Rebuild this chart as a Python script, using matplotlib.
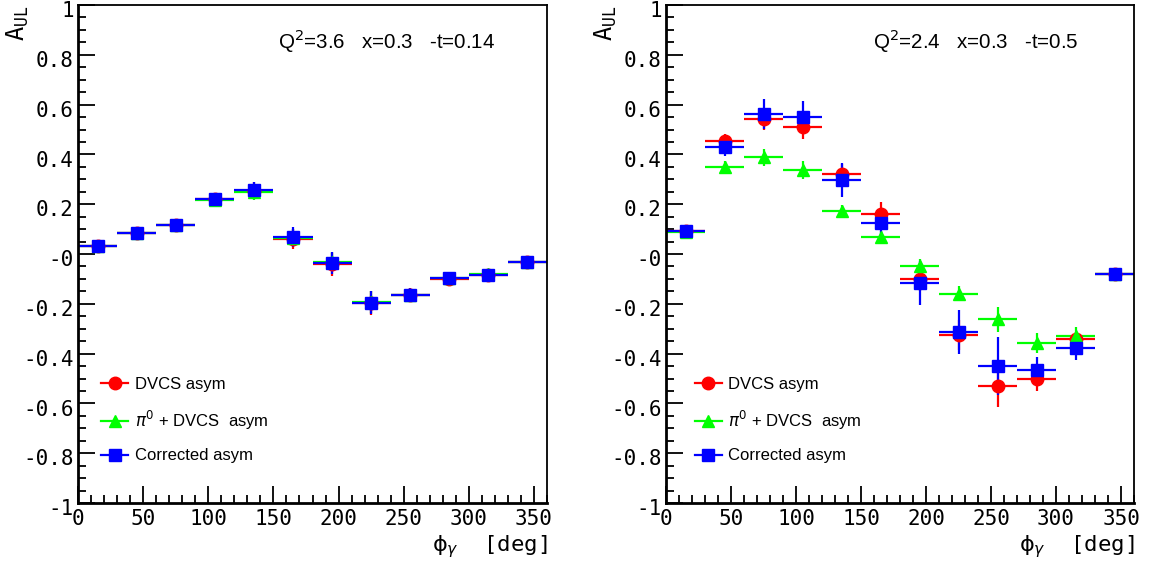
import numpy as np
import matplotlib
matplotlib.use("Agg")
import matplotlib.pyplot as plt
import matplotlib.transforms as mtransforms
from matplotlib.lines import Line2D
from matplotlib.ticker import MultipleLocator, FixedLocator, FixedFormatter

# bin centres in phi_gamma (deg), bin half-width
phi = [15, 45, 75, 105, 135, 165, 195, 225, 255, 285, 315, 345]
phi_err = [15] * 12

# left panel: Q2=3.6 x=0.3 -t=0.14
left_dvcs = [0.033, 0.086, 0.118, 0.222, 0.255, 0.059, -0.042, -0.197, -0.166, -0.099, -0.083, -0.034]
left_dvcs_err = [0.012, 0.012, 0.012, 0.012, 0.033, 0.04, 0.045, 0.047, 0.028, 0.012, 0.012, 0.012]
left_pi = [0.032, 0.085, 0.116, 0.215, 0.248, 0.066, -0.033, -0.193, -0.165, -0.098, -0.082, -0.033]
left_pi_err = [0.012, 0.012, 0.012, 0.012, 0.03, 0.035, 0.04, 0.045, 0.025, 0.012, 0.012, 0.012]
left_cor = [0.032, 0.086, 0.118, 0.222, 0.257, 0.067, -0.035, -0.195, -0.165, -0.098, -0.083, -0.033]
left_cor_err = [0.012, 0.012, 0.012, 0.012, 0.033, 0.04, 0.045, 0.047, 0.028, 0.012, 0.012, 0.012]

# right panel: Q2=2.4 x=0.3 -t=0.5
right_dvcs = [0.092, 0.452, 0.542, 0.512, 0.322, 0.160, -0.099, -0.325, -0.530, -0.502, -0.343, -0.080]
right_dvcs_err = [0.01, 0.03, 0.045, 0.05, 0.04, 0.05, 0.05, 0.06, 0.085, 0.05, 0.03, 0.01]
right_pi = [0.090, 0.350, 0.388, 0.338, 0.172, 0.068, -0.050, -0.160, -0.262, -0.356, -0.330, -0.082]
right_pi_err = [0.01, 0.025, 0.035, 0.035, 0.025, 0.025, 0.03, 0.03, 0.05, 0.04, 0.035, 0.01]
right_cor = [0.092, 0.428, 0.562, 0.551, 0.297, 0.126, -0.115, -0.313, -0.449, -0.465, -0.379, -0.082]
right_cor_err = [0.01, 0.035, 0.06, 0.065, 0.07, 0.05, 0.088, 0.09, 0.117, 0.05, 0.045, 0.01]

yticks = [-1, -0.8, -0.6, -0.4, -0.2, 0, 0.2, 0.4, 0.6, 0.8, 1]
ytick_labels = ['-1', '-0.8', '-0.6', '-0.4', '-0.2', '-0', '0.2', '0.4', '0.6', '0.8', '1']
xticks = [0, 50, 100, 150, 200, 250, 300, 350]
xtick_labels = ['0', '50', '100', '150', '200', '250', '300', '350']

titles = [r'Q$^2$=3.6   x=0.3   -t=0.14', r'Q$^2$=2.4   x=0.3   -t=0.5']
labels = ['DVCS asym', r'$\pi^0$ + DVCS  asym', 'Corrected asym']
colors = ['#ff0000', '#00ff00', '#0000ff']
markers = ['o', '^', 's']

mono = 'DejaVu Sans Mono'
sans = 'Liberation Sans'

fig = plt.figure(figsize=(11.52, 5.69), dpi=100)
W, H = 1152, 569
ax_l = fig.add_axes([78 / W, (H - 503) / H, 469 / W, 498 / H])
ax_r = fig.add_axes([666 / W, (H - 503) / H, 468 / W, 498 / H])

panels = [
    (ax_l, [(left_dvcs, left_dvcs_err), (left_pi, left_pi_err), (left_cor, left_cor_err)], titles[0], 0.426, 0.018),
    (ax_r, [(right_dvcs, right_dvcs_err), (right_pi, right_pi_err), (right_cor, right_cor_err)], titles[1], 0.442, 0.03),
]

shift_down = mtransforms.ScaledTranslation(0, -3 / 72, fig.dpi_scale_trans)

for ax, series, title, tx, lx in panels:
    for (vals, errs), c, m in zip(series, colors, markers):
        ax.errorbar(phi, vals, xerr=phi_err, yerr=errs, fmt=m, color=c,
                    ms=9, elinewidth=1.6, capsize=0, mec=c)
    ax.set_xlim(0, 360)
    ax.set_ylim(-1, 1)
    ax.xaxis.set_major_locator(FixedLocator(xticks))
    ax.xaxis.set_major_formatter(FixedFormatter(xtick_labels))
    ax.xaxis.set_minor_locator(MultipleLocator(10))
    ax.yaxis.set_major_locator(FixedLocator(yticks))
    ax.yaxis.set_major_formatter(FixedFormatter(ytick_labels))
    ax.yaxis.set_minor_locator(MultipleLocator(0.05))
    ax.tick_params(which='both', direction='in', top=False, right=False, width=1.3)
    ax.tick_params(which='major', length=12)
    ax.tick_params(which='minor', length=6)
    ax.tick_params(axis='x', pad=4)
    ax.tick_params(axis='y', pad=3)
    for lab in ax.get_xticklabels() + ax.get_yticklabels():
        lab.set_fontfamily(mono)
        lab.set_fontsize(15)
    for lab in ax.get_yticklabels():
        lab.set_transform(lab.get_transform() + shift_down)
    for s in ax.spines.values():
        s.set_linewidth(1.3)
    ax.spines['left'].set_linewidth(2)
    ax.spines['bottom'].set_linewidth(2)

    ax.text(tx, 0.928, title, transform=ax.transAxes, fontsize=14.8,
            fontfamily=sans, va='center', ha='left')

    # y-axis title at top left
    ax.text(-0.128, 1.0, r'$\mathtt{A}_{\mathtt{UL}}$', transform=ax.transAxes,
            rotation=90, fontsize=17, ha='center', va='top')
    # x-axis title at bottom right
    ax.text(1.0, -0.06, r'$\mathrm{\phi}_{\gamma}$  [deg]', transform=ax.transAxes,
            fontsize=16, fontfamily=mono, ha='right', va='top')

    handles = [Line2D([], [], color=c, marker=m, ms=9, lw=1.6)
               for c, m in zip(colors, markers)]
    ax.legend(handles, labels, loc='upper left', bbox_to_anchor=(lx, 0.283),
              frameon=False, handlelength=1.6, handletextpad=0.4,
              labelspacing=1.0, prop={'family': sans, 'size': 12})

fig.savefig('out.png', dpi=100)
